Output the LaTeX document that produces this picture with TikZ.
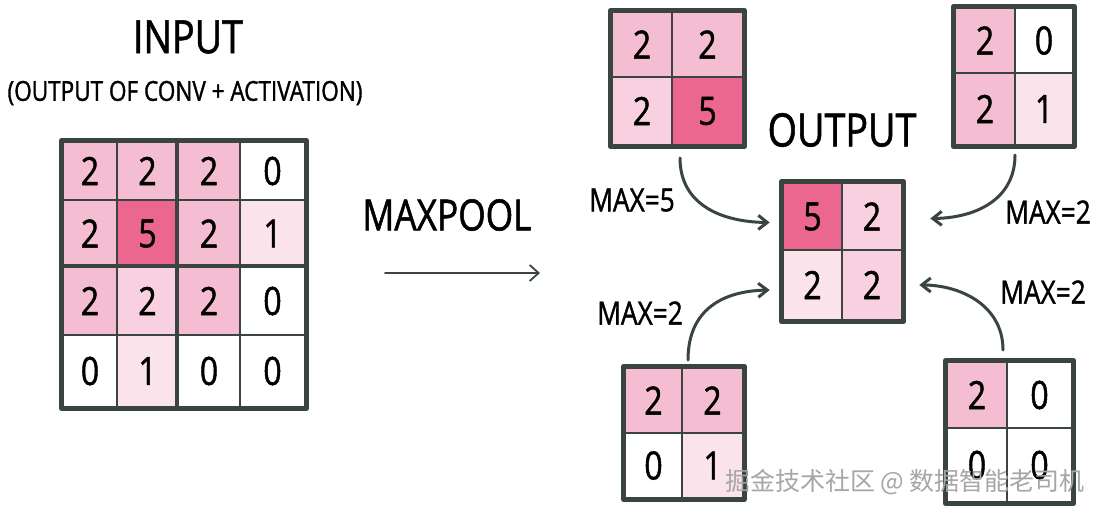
\documentclass[tikz,border=0pt]{standalone}
\usepackage{fontspec}
\setmainfont{Open Sans}
\newfontfamily\hand[FakeStretch=0.82,FakeBold=1.2]{Open Sans}
\newfontfamily\cjk{Noto Sans CJK SC}
\usetikzlibrary{arrows.meta,calc}
\definecolor{ink}{HTML}{3A4541}
\definecolor{pkS}{HTML}{EC6790}
\definecolor{pkM}{HTML}{F5BDD1}
\definecolor{pkML}{HTML}{F8D0DF}
\definecolor{pkL}{HTML}{FBE3EC}
\newcommand\mycell[7]{\node[cellbox,fill=#6,minimum width={#4pt-#2pt},minimum height={#5pt-#3pt}] (#1) at ({(#2+#4)/2},{(#3+#5)/2}) {#7};}
\begin{document}
\begin{tikzpicture}[x=1pt,y=-1pt,
  cellbox/.style={draw=ink,line width=2.6pt,inner sep=0pt,text=black,font=\hand\fontsize{39}{41}\selectfont},
  frame/.style={draw=ink,line width=5pt,line join=round},
  midline/.style={draw=ink,line width=4.2pt},
  label/.style={text=black,inner sep=0pt,font=\hand\fontsize{32}{34}\selectfont},
  title/.style={text=black,inner sep=0pt,font=\hand\fontsize{46}{48}\selectfont},
  arr/.style={draw=ink,line width=3pt,line cap=round,-{Straight Barb[length=9pt,width=14pt,line width=3pt]}},
  thinarr/.style={draw=ink,line width=1.8pt,line cap=round,-{Straight Barb[length=9pt,width=16pt,line width=1.8pt]}}]
\useasboundingbox (0,0) rectangle (1100,512);
\fill[white] (0,0) rectangle (1100,512);

% titles
\node[title] (tin) at (188,37) {INPUT};
\node[text=black,inner sep=0pt,font=\hand\fontsize{27.5}{29}\selectfont] (tsub) at (185,93) {(OUTPUT OF CONV + ACTIVATION)};
\node[title,font=\hand\fontsize{43}{45}\selectfont] (tmp) at (447,215) {MAXPOOL};
\node[title] (tout) at (842,130) {OUTPUT};

% input grid
\mycell{i11}{63}{142}{117}{200}{pkM}{2}
\mycell{i12}{117}{142}{178}{200}{pkM}{2}
\mycell{i13}{178}{142}{240}{200}{pkM}{2}
\mycell{i14}{240}{142}{305}{200}{white}{0}
\mycell{i21}{63}{200}{117}{267}{pkM}{2}
\mycell{i22}{117}{200}{178}{267}{pkS}{5}
\mycell{i23}{178}{200}{240}{267}{pkM}{2}
\mycell{i24}{240}{200}{305}{267}{pkL}{1}
\mycell{i31}{63}{267}{117}{335}{pkM}{2}
\mycell{i32}{117}{267}{178}{335}{pkML}{2}
\mycell{i33}{178}{267}{240}{335}{pkM}{2}
\mycell{i34}{240}{267}{305}{335}{white}{0}
\mycell{i41}{63}{335}{117}{407}{white}{0}
\mycell{i42}{117}{335}{178}{407}{pkL}{1}
\mycell{i43}{178}{335}{240}{407}{white}{0}
\mycell{i44}{240}{335}{305}{407}{white}{0}
\draw[midline] (i13.north west) -- (i43.south west);
\draw[midline] (i31.north west) -- (i34.north east);
\draw[frame] (i11.north west) rectangle (i44.south east);

% top-left block
\mycell{a11}{612}{12}{672}{77}{pkM}{2}
\mycell{a12}{672}{12}{743}{77}{pkM}{2}
\mycell{a21}{612}{77}{672}{145}{pkML}{2}
\mycell{a22}{672}{77}{743}{145}{pkS}{5}
\draw[frame] (a11.north west) rectangle (a22.south east);

% top-right block
\mycell{b11}{955}{8}{1015}{73}{pkM}{2}
\mycell{b12}{1015}{8}{1073}{73}{white}{0}
\mycell{b21}{955}{73}{1015}{145}{pkM}{2}
\mycell{b22}{1015}{73}{1073}{145}{pkL}{1}
\draw[frame] (b11.north west) rectangle (b22.south east);

% output block
\mycell{o11}{783}{183}{842}{250}{pkS}{5}
\mycell{o12}{842}{183}{902}{250}{pkML}{2}
\mycell{o21}{783}{250}{842}{320}{pkL}{2}
\mycell{o22}{842}{250}{902}{320}{pkML}{2}
\draw[frame] (o11.north west) rectangle (o22.south east);

% bottom-left block
\mycell{c11}{625}{368}{682}{433}{pkM}{2}
\mycell{c12}{682}{368}{743}{433}{pkM}{2}
\mycell{c21}{625}{433}{682}{498}{white}{0}
\mycell{c22}{682}{433}{743}{498}{pkL}{1}
\draw[frame] (c11.north west) rectangle (c22.south east);

% bottom-right block
\mycell{d11}{947}{362}{1007}{428}{pkM}{2}
\mycell{d12}{1007}{362}{1072}{428}{white}{0}
\mycell{d21}{947}{428}{1007}{502}{white}{0}
\mycell{d22}{1007}{428}{1072}{502}{white}{0}
\draw[frame] (d11.north west) rectangle (d22.south east);

% main arrow
\coordinate (m1) at (385,273);
\coordinate (m2) at (540,273);
\draw[thinarr] (m1) -- (m2);

% curved arrows
\coordinate (s1) at (680,158);
\coordinate (s2) at (1015,155);
\coordinate (s3) at (688,360);
\coordinate (s4) at (1003,350);
\draw[arr] (s1) .. controls (680,205) and (722,222) .. ($(o11.west)+(-12,6)$);
\draw[arr] (s2) .. controls (1015,200) and (975,218) .. ($(o12.east)+(27,2)$);
\draw[arr] (s3) .. controls (688,310) and (722,291) .. ($(o21.west)+(-12,5)$);
\draw[arr] (s4) .. controls (1003,305) and (960,285) .. ($(o22.east)+(16,0)$);

% labels
\node[label] (l1) at (632,200) {MAX=5};
\node[label] (l2) at (1048,212) {MAX=2};
\node[label] (l3) at (640,313) {MAX=2};
\node[label] (l4) at (1043,292) {MAX=2};

% watermark
\node[text=black!35,inner sep=0pt,font=\cjk\fontsize{25}{27}\selectfont] (wm) at (905,482) {掘金技术社区 @ 数据智能老司机};
\end{tikzpicture}
\end{document}
